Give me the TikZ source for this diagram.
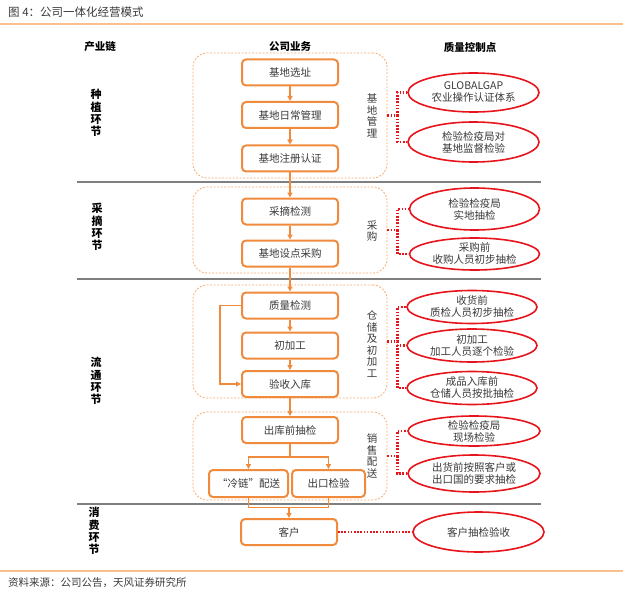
\documentclass[tikz,border=0pt]{standalone}
\usepackage{fontspec}
\setmainfont{Noto Sans CJK SC}
\usepackage{xcolor}
\usetikzlibrary{positioning,arrows.meta,shapes.geometric}

\definecolor{boxorange}{HTML}{F08A3C}
\definecolor{dashorange}{HTML}{F7AD70}
\definecolor{ellred}{HTML}{E8141C}
\definecolor{txtgray}{HTML}{3A3A3A}
\definecolor{rulegray}{HTML}{7F7F7F}
\definecolor{lineorange}{HTML}{F9C08E}

\tikzset{
  stepbox/.style={draw=boxorange, line width=2pt, rounded corners=4pt, fill=white,
    minimum width=96pt, minimum height=26pt, inner sep=0pt, text=txtgray,
    font=\fontsize{10.5}{12}\selectfont},
  groupbox/.style={draw=dashorange, line width=0.8pt, dash pattern=on 2pt off 1.5pt,
    rounded corners=14pt, inner sep=0pt},
  grouplabel/.style={align=center, text=txtgray, inner sep=0pt,
    font=\fontsize{10.5}{11.5}\selectfont},
  chainlabel/.style={align=center, inner sep=0pt, font=\fontsize{11}{12.2}\selectfont\bfseries},
  headlabel/.style={inner sep=0pt, font=\fontsize{10.5}{12}\selectfont\bfseries},
  checkell/.style={ellipse, draw=ellred, line width=1.6pt, fill=white, align=center,
    minimum width=131pt, minimum height=38pt, inner xsep=-30pt, inner ysep=-10pt,
    text=txtgray, font=\fontsize{10.5}{12}\selectfont},
  flow/.style={draw=boxorange, line width=1.5pt, -{Triangle[length=5pt,width=5pt]}},
  flowline/.style={draw=boxorange, line width=1.5pt},
  dotlink/.style={draw=ellred, line width=2.2pt, dash pattern=on 1.6pt off 1.6pt},
}

\begin{document}
\begin{tikzpicture}[x=1pt,y=-1pt]
\useasboundingbox (0,0) rectangle (623,596);
%% Title and rules
\node[anchor=west, inner sep=0pt, text=txtgray, font=\fontsize{11.5}{13}\selectfont] (title) at (8,12) {图 4：公司一体化经营模式};
\draw[lineorange, line width=1.2pt] (0,24) -- (623,24); % top rule
\draw[lineorange, line width=1.2pt] (0,571) -- (623,571); % bottom rule
\node[anchor=west, inner sep=0pt, text=txtgray, font=\fontsize{10.5}{12}\selectfont] (source) at (8,583) {资料来源：公司公告，天风证券研究所};
%% Column headers
\node[headlabel] (hchain) at (100,47) {产业链};
\node[headlabel] (hbiz) at (290,47) {公司业务};
\node[headlabel] (hqc) at (470,47) {质量控制点};
%% Chain stages
\node[chainlabel] (cplant) at (96,113) {种\\植\\环\\节};
\node[chainlabel] (cpick) at (97,227) {采\\摘\\环\\节};
\node[chainlabel] (cflow) at (96,381) {流\\通\\环\\节};
\node[chainlabel] (cuse) at (94,531) {消\\费\\环\\节};
\draw[rulegray, line width=1.5pt] (77,182) -- (541,182); % plant | pick
\draw[rulegray, line width=1.5pt] (77,279) -- (541,279); % pick | flow
\draw[rulegray, line width=1.5pt] (77,504) -- (541,504); % flow | use
%% Group frames
\node[groupbox, minimum width=194pt, minimum height=125pt] (gbase) at (290,115.5) {}; % base management
\node[groupbox, minimum width=194pt, minimum height=86pt] (gbuy) at (290,230) {}; % purchase
\node[groupbox, minimum width=194pt, minimum height=113pt] (gstore) at (290,341.5) {}; % storage
\node[groupbox, minimum width=194pt, minimum height=88pt] (gsell) at (290,456) {}; % sales
\node[grouplabel] (lbase) at (372,116) {基\\地\\管\\理};
\node[grouplabel] (lbuy) at (372,231) {采\\购};
\node[grouplabel] (lstore) at (372,344) {仓\\储\\及\\初\\加\\工};
\node[grouplabel] (lsell) at (372,456) {销\\售\\配\\送};
%% Business steps
\node[stepbox] (site) at (290,72.5) {基地选址};
\node[stepbox] (daily) at (290,115) {基地日常管理};
\node[stepbox] (reg) at (290,158.5) {基地注册认证};
\node[stepbox] (pick) at (290,211.5) {采摘检测};
\node[stepbox] (buy) at (290,253.5) {基地设点采购};
\node[stepbox] (qual) at (290,305.5) {质量检测};
\node[stepbox] (proc) at (290,345.5) {初加工};
\node[stepbox] (inbound) at (290,384) {验收入库};
\node[stepbox] (outchk) at (290,430) {出库前抽检};
\node[stepbox, minimum width=79pt, minimum height=27pt] (cold) at (248.5,483.5) {“冷链”配送};
\node[stepbox, minimum width=73pt, minimum height=27pt] (export) at (328.5,483.5) {出口检验};
\node[stepbox] (client) at (289,532) {客户};
\draw[flow] (site) -- (daily);
\draw[flow] (daily) -- (reg);
\draw[flow] (reg) -- (pick);
\draw[flow] (pick) -- (buy);
\draw[flow] (buy) -- (qual);
\draw[flow] (qual) -- (proc);
\draw[flow] (proc) -- (inbound);
\draw[flow] (qual.west) -- ++(-21,0) |- (inbound.west); % bypass
\draw[flow] (inbound) -- (outchk);
\coordinate (split) at (290,457);
\draw[flowline] (outchk) -- (split);
\draw[flow] (split) -| (cold.north);
\draw[flow] (split) -| (export.north);
\coordinate (merge) at (289,507.5);
\draw[flowline] (cold.south) |- (merge);
\draw[flowline] (export.south) |- (merge);
\draw[flow] (merge) -- (client);
%% Quality checkpoints
\node[checkell, minimum height=39pt] (ggap) at (473.5,92.5) {GLOBALGAP\\农业操作认证体系};
\node[checkell, minimum height=40pt] (cbase) at (473.5,142) {检验检疫局对\\基地监督检验};
\node[checkell, minimum width=130pt, minimum height=42pt] (cspot) at (474.5,209) {检验检疫局\\实地抽检};
\node[checkell, minimum width=130pt, minimum height=32pt] (cbuy) at (474.5,254) {采购前\\收购人员初步抽检};
\node[checkell, minimum width=130pt, minimum height=33pt] (crecv) at (472,307) {收货前\\质检人员初步抽检};
\node[checkell, minimum width=130pt, minimum height=33pt] (cproc) at (472,345.5) {初加工\\加工人员逐个检验};
\node[checkell, minimum width=130pt, minimum height=33pt] (cstore) at (472,388) {成品入库前\\仓储人员按批抽检};
\node[checkell, minimum width=132pt, minimum height=30pt] (cfield) at (474,431) {检验检疫局\\现场检验};
\node[checkell, minimum width=132pt, minimum height=37pt] (cexport) at (474,473.5) {出货前按照客户或\\出口国的要求抽检};
\node[checkell, minimum height=40pt] (caccept) at (478.5,532) {客户抽检验收};
\coordinate (bbase) at ([xshift=10pt]gbase.east);
\draw[dotlink] (gbase.east) -- (bbase) |- (ggap.west);
\draw[dotlink] (bbase) |- (cbase.west);
\coordinate (bbuy) at ([xshift=10pt]gbuy.east);
\draw[dotlink] (gbuy.east) -- (bbuy) |- (cspot.west);
\draw[dotlink] (bbuy) |- (cbuy.west);
\coordinate (bstore) at ([xshift=10pt]gstore.east);
\draw[dotlink] (gstore.east) -- (bstore) |- (crecv.west);
\draw[dotlink] (bstore) |- (cproc.west);
\draw[dotlink] (bstore) |- (cstore.west);
\coordinate (bsell) at ([xshift=10pt]gsell.east);
\draw[dotlink] (gsell.east) -- (bsell) |- (cfield.west);
\draw[dotlink] (bsell) |- (cexport.west);
\draw[dotlink] (client) -- (caccept);
\end{tikzpicture}
\end{document}
